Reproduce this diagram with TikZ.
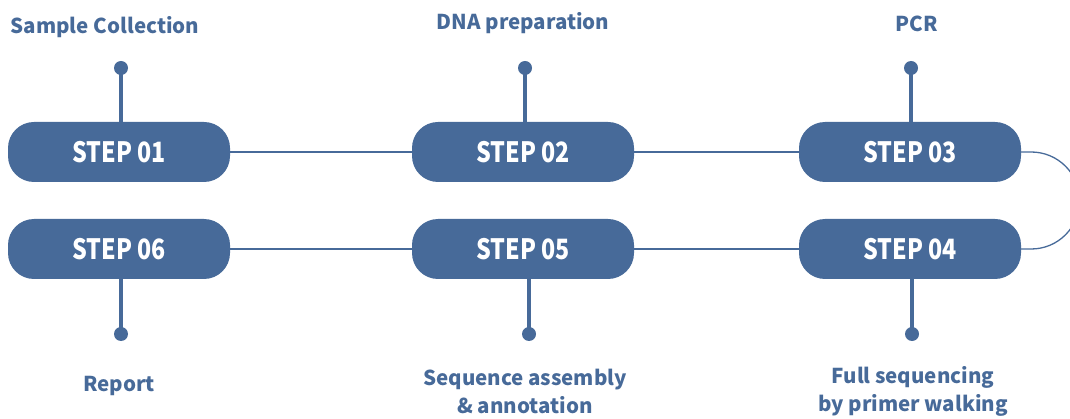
\documentclass[tikz,border=0pt]{standalone}
\usepackage{fontspec}
\setmainfont{Noto Sans CJK KR}
\newfontfamily\stepfont[FakeStretch=0.83]{Noto Sans CJK KR}
\definecolor{mainblue}{RGB}{71,106,153}
\tikzset{
  stepbox/.style={fill=mainblue, rounded corners=26pt, minimum width=222pt, minimum height=60pt,
    inner sep=0pt, text=white, font=\stepfont\bfseries\fontsize{28}{30}\selectfont},
  label/.style={text=mainblue, font=\bfseries\fontsize{20.5}{28}\selectfont, align=center, inner sep=0pt},
  pin/.style={draw=mainblue, line width=3.5pt},
  dot/.style={circle, fill=mainblue, minimum size=14pt, inner sep=0pt},
  link/.style={draw=mainblue, line width=1.3pt}
}
\begin{document}
\begin{tikzpicture}[x=1pt,y=-1pt]
\useasboundingbox (0,0) rectangle (1070,419);
% steps
\node[stepbox] (s1) at (119,152) {STEP 01};
\node[stepbox] (s2) at (523,152) {STEP 02};
\node[stepbox] (s3) at (910,152) {STEP 03};
\node[stepbox] (s4) at (910,249) {STEP 04};
\node[stepbox] (s5) at (523,249) {STEP 05};
\node[stepbox] (s6) at (119,249) {STEP 06};
% links
\draw[link] (s1.east) -- (s2.west);
\draw[link] (s2.east) -- (s3.west);
\draw[link] (s6.east) -- (s5.west);
\draw[link] (s5.east) -- (s4.west);
\draw[link] (s3.east) -- ++(10,0) arc[start angle=-90, end angle=90, radius=48.5] -- (s4.east);
% dots
\node[dot] (d1) at (121,68) {};
\node[dot] (d2) at (525,68) {};
\node[dot] (d3) at (911,68) {};
\node[dot] (d4) at (912,334) {};
\node[dot] (d5) at (529,334) {};
\node[dot] (d6) at (121,334) {};
\draw[pin] (d1.center) -- (s1.north -| d1);
\draw[pin] (d2.center) -- (s2.north -| d2);
\draw[pin] (d3.center) -- (s3.north -| d3);
\draw[pin] (d4.center) -- (s4.south -| d4);
\draw[pin] (d5.center) -- (s5.south -| d5);
\draw[pin] (d6.center) -- (s6.south -| d6);
% labels
\node[label] (l1) at (105,27) {Sample Collection};
\node[label] (l2) at (523,23) {DNA preparation};
\node[label] (l3) at (917,24) {PCR};
\node[label] (l4) at (913,391) {Full sequencing\\by primer walking};
\node[label] (l5) at (525,391) {Sequence assembly\\\& annotation};
\node[label] (l6) at (119,386) {Report};
\end{tikzpicture}
\end{document}
